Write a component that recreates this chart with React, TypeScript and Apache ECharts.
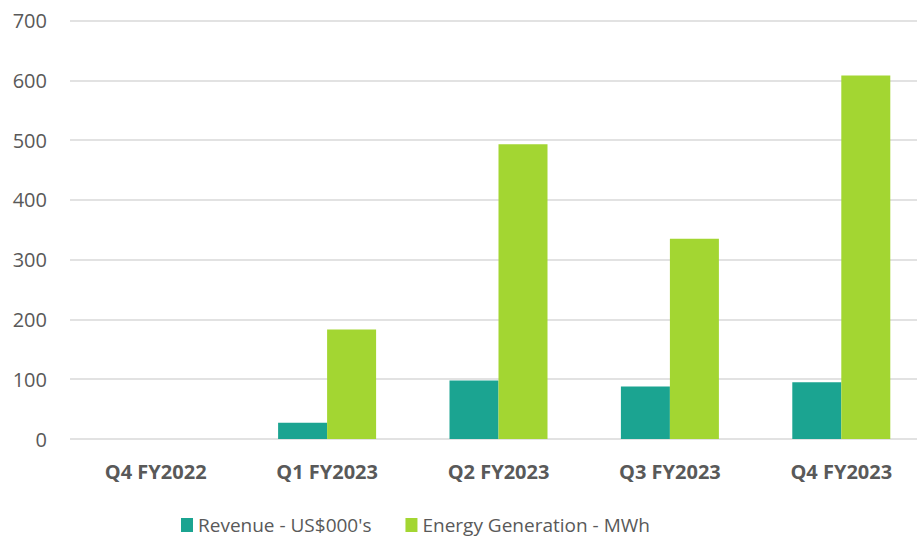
import React, { useEffect, useRef } from "react";
import * as echarts from "echarts";

const categories = ["Q4 FY2022", "Q1 FY2023", "Q2 FY2023", "Q3 FY2023", "Q4 FY2023"];
const revenue = [0, 27, 98, 88, 95];
const energy = [0, 183, 493, 335, 608];
const seriesNames = ["Revenue - US$000's", "Energy Generation - MWh"];

export default function App() {
  const ref = useRef<HTMLDivElement>(null);
  useEffect(() => {
    if (!ref.current) return;
    const chart = echarts.init(ref.current, null, { renderer: "svg" });
    const font = "'Open Sans', 'Noto Sans', sans-serif";
    chart.setOption({
      animation: false,
      textStyle: { fontFamily: font },
      grid: {
        left: 70,
        right: -10,
        top: 20.5,
        bottom: 99,
        containLabel: false,
        outerBoundsMode: "none",
      },
      legend: {
        data: seriesNames,
        left: 181,
        top: 514,
        padding: 0,
        itemWidth: 12,
        itemHeight: 14,
        itemGap: 34,
        icon: "rect",
        textStyle: { fontFamily: font, fontSize: 19, color: "#595959", lineHeight: 22 },
      },
      xAxis: {
        type: "category",
        data: categories,
        axisLine: { show: false },
        axisTick: { show: false },
        axisLabel: {
          fontFamily: font,
          fontSize: 20,
          fontWeight: "bold",
          color: "#595959",
          margin: 22,
        },
      },
      yAxis: {
        type: "value",
        min: 0,
        max: 700,
        interval: 100,
        axisLine: { show: false },
        axisTick: { show: false },
        splitLine: { lineStyle: { color: "#D9D9D9", width: 1.5 } },
        axisLabel: { fontFamily: font, fontSize: 20, color: "#595959", margin: 23 },
      },
      series: [
        {
          name: seriesNames[0],
          type: "bar",
          data: revenue,
          barWidth: 49,
          barGap: "0%",
          itemStyle: { color: "#1BA491" },
        },
        {
          name: seriesNames[1],
          type: "bar",
          data: energy,
          barWidth: 49,
          barGap: "0%",
          itemStyle: { color: "#A3D632" },
        },
      ],
    });
    return () => chart.dispose();
  }, []);
  return (
    <div
      ref={ref}
      style={{ position: "fixed", left: 0, top: 0, width: 917, height: 538, background: "#fff" }}
    />
  );
}
